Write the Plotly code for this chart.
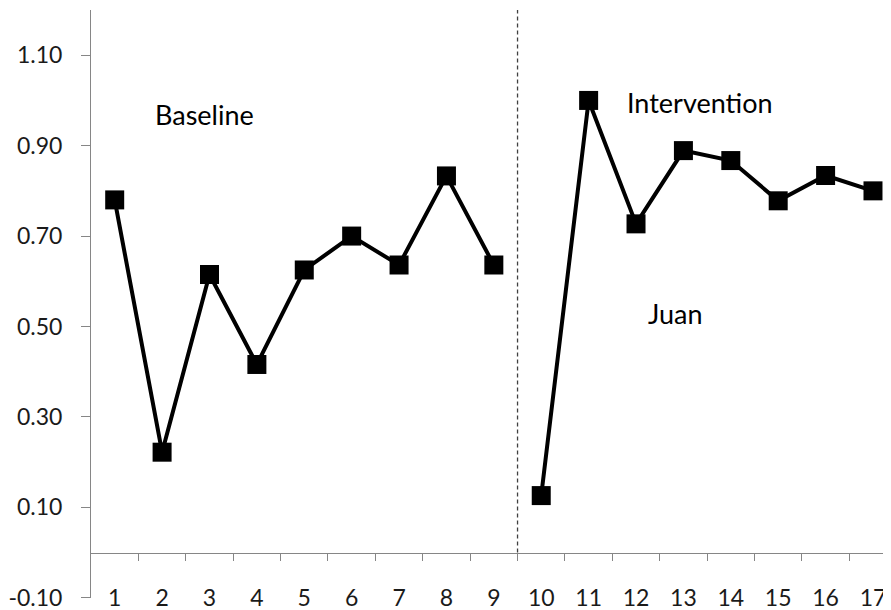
import plotly.graph_objects as go

sessions = list(range(1, 18))
session_labels = [str(s) for s in sessions]
baseline_sessions = sessions[:9]
baseline_scores = [0.78, 0.222, 0.615, 0.416, 0.625, 0.70, 0.636, 0.833, 0.636]
intervention_sessions = sessions[9:]
intervention_scores = [0.126, 1.00, 0.727, 0.889, 0.867, 0.778, 0.834, 0.80]
y_ticks = [-0.1, 0.1, 0.3, 0.5, 0.7, 0.9, 1.1]
phase_change = 9.5
phase_labels = ["Baseline", "Intervention", "Juan"]

FONT = "Lato, Carlito, Calibri, sans-serif"
AXIS_GRAY = "#868686"
TXT = "#1a1a1a"

y_min, y_max = -0.1005, 1.2
x_min, x_max = 0.5, 17.38

fig = go.Figure()
for xs, ys in [(baseline_sessions, baseline_scores), (intervention_sessions, intervention_scores)]:
    fig.add_trace(go.Scatter(
        x=xs, y=ys, mode="lines+markers",
        line=dict(color="black", width=4),
        marker=dict(symbol="square", size=19, color="black"),
        showlegend=False, hoverinfo="skip",
    ))
# invisible trace on overlay axis for the y=0 axis line
fig.add_trace(go.Scatter(x=[sessions[0]], y=[None], xaxis="x2", showlegend=False, hoverinfo="skip"))

fig.add_shape(type="line", x0=phase_change, x1=phase_change, y0=0, y1=y_max,
              xref="x", yref="y", line=dict(color="#404040", width=1.3, dash="4px,3px"))

pos_zero = (0 - y_min) / (y_max - y_min)

# the page body adds an 8px offset, so the figure is 8px smaller on each side
fig.update_layout(
    width=883, height=602,
    margin=dict(l=83, r=0, t=2, b=12),
    paper_bgcolor="white", plot_bgcolor="white",
    font=dict(family=FONT, size=23, color=TXT),
    xaxis=dict(
        range=[x_min, x_max], tickvals=sessions, ticktext=session_labels,
        showline=False, showgrid=False, zeroline=False, ticks="",
        anchor="free", position=0.028, automargin=False,
        ticklabeloverflow="allow",
        tickfont=dict(family=FONT, size=23, color=TXT),
    ),
    xaxis2=dict(
        overlaying="x", matches="x", anchor="free", position=pos_zero,
        tickvals=[s + 0.5 for s in sessions[:-1]], automargin=False,
        showticklabels=False, showline=True, linecolor=AXIS_GRAY, linewidth=1,
        ticks="outside", ticklen=7, tickcolor=AXIS_GRAY, tickwidth=1,
        showgrid=False, zeroline=False,
    ),
    yaxis=dict(
        range=[y_min, y_max], tickvals=y_ticks, automargin=False,
        ticktext=[f"{v:.2f}" for v in y_ticks],
        showline=True, linecolor=AXIS_GRAY, linewidth=1,
        ticks="outside", ticklen=9, tickcolor=AXIS_GRAY, tickwidth=1,
        showgrid=False, zeroline=False, ticklabelstandoff=14,
        ticklabeloverflow="allow",
        tickfont=dict(family=FONT, size=23, color=TXT),
    ),
    annotations=[
        dict(x=2.89, y=0.968, text=phase_labels[0], showarrow=False, xref="x", yref="y",
             font=dict(family=FONT, size=27, color="black")),
        dict(x=13.35, y=0.996, text=phase_labels[1], showarrow=False, xref="x", yref="y",
             font=dict(family=FONT, size=27, color="black")),
        dict(x=12.83, y=0.529, text=phase_labels[2], showarrow=False, xref="x", yref="y",
             font=dict(family=FONT, size=27, color="black")),
    ],
)

fig.write_html("out.html")
